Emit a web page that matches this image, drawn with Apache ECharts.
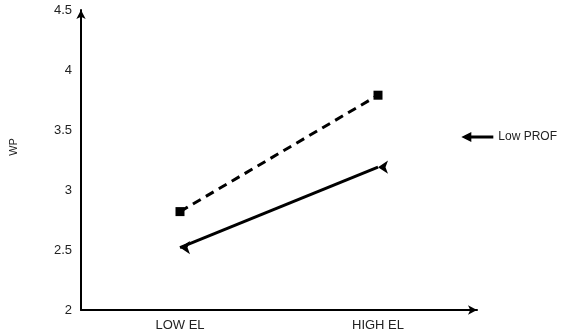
<!DOCTYPE html>
<html>
<head>
<meta charset="utf-8">
<script src="https://cdn.jsdelivr.net/npm/echarts@6/dist/echarts.min.js"></script>
<style>
  html, body { margin: 0; padding: 0; background: #fff; }
  #chart { width: 566px; height: 335px; }
</style>
</head>
<body>
<div id="chart"></div>
<script>
// data
const categories = ['LOW EL', 'HIGH EL']
const lowProf = [2.52, 3.19]
const highProf = [2.82, 3.79]

const chart = echarts.init(document.getElementById('chart'))
const font = 'Liberation Sans, Arial, sans-serif'

const option = {
  animation: false,
  textStyle: { fontFamily: font },
  grid: { left: 76, right: 89, top: 10, bottom: 25 },
  legend: {
    data: [{ name: 'Low PROF', icon: 'path://M0,5 L10,0 L10,3.5 L32,3.5 L32,6.5 L10,6.5 L10,10 Z' }],
    right: 4,
    top: 126,
    itemWidth: 32,
    itemHeight: 10,
    itemGap: 4,
    textStyle: { color: '#222', fontSize: 12, fontFamily: font }
  },
  xAxis: {
    type: 'category',
    data: categories,
    boundaryGap: true,
    axisLine: {
      lineStyle: { color: '#000', width: 2 },
      symbol: ['none', 'arrow'],
      symbolSize: [7, 9]
    },
    axisTick: { show: false },
    axisLabel: { color: '#222', fontSize: 13, margin: 9, fontFamily: font }
  },
  yAxis: {
    type: 'value',
    min: 2,
    max: 4.5,
    interval: 0.5,
    name: 'WP',
    nameLocation: 'middle',
    nameGap: 62,
    nameTextStyle: { color: '#222', fontSize: 11, fontFamily: font, padding: [0, 0, 0, 26] },
    splitLine: { show: false },
    axisLine: {
      show: true,
      lineStyle: { color: '#000', width: 2 },
      symbol: ['none', 'arrow'],
      symbolSize: [7, 9]
    },
    axisTick: { show: false },
    axisLabel: { color: '#222', fontSize: 13, margin: 9, fontFamily: font }
  },
  series: [
    {
      name: 'Low PROF',
      type: 'line',
      data: lowProf,
      symbol: 'arrow',
      symbolRotate: 90,
      symbolSize: 10,
      itemStyle: { color: '#000' },
      lineStyle: { color: '#000', width: 3, type: 'solid' }
    },
    {
      name: 'High PROF',
      type: 'line',
      data: highProf,
      symbol: 'rect',
      symbolSize: 9,
      itemStyle: { color: '#000' },
      lineStyle: { color: '#000', width: 3, type: [9, 6] }
    }
  ]
}

chart.setOption(option)
</script>
</body>
</html>
